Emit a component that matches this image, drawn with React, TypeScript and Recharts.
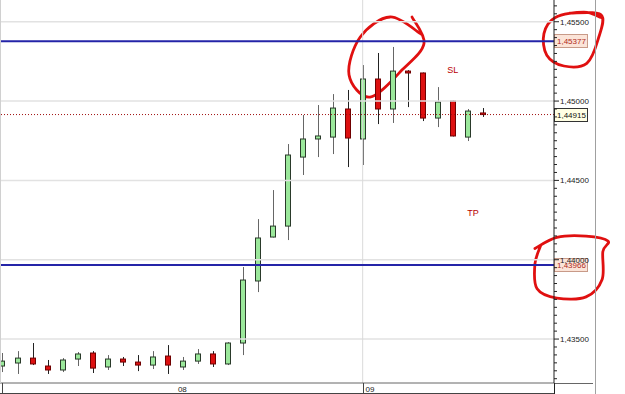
import React from 'react';
import {
  ComposedChart, Bar, XAxis, YAxis, ReferenceLine, ReferenceArea, ReferenceDot,
} from 'recharts';

// hourly EUR/USD-style candles
const hours = [
  1, 2, 3, 4, 5, 6, 7, 8, 9, 10, 11, 12, 13, 14, 15, 16, 17,
  18, 19, 20, 21, 22, 23, 24, 25, 26, 27, 28, 29, 30, 31, 32, 33,
];
const opens = [
  1.43330, 1.43349, 1.43380, 1.43330, 1.43305, 1.43374, 1.43412, 1.43324, 1.43374, 1.43355, 1.43336,
  1.43393, 1.43324, 1.43361, 1.43406, 1.43343, 1.43475, 1.43866, 1.44143, 1.44212, 1.44647, 1.44761,
  1.44773, 1.44950, 1.44761, 1.45139, 1.44950, 1.45189, 1.45177, 1.44893, 1.45000, 1.44773, 1.44925,
];
const highs = [
  1.43412, 1.43424, 1.43475, 1.43368, 1.43380, 1.43418, 1.43424, 1.43399, 1.43387, 1.43399, 1.43424,
  1.43462, 1.43387, 1.43437, 1.43424, 1.43481, 1.43954, 1.44256, 1.44439, 1.44729, 1.44912, 1.44975,
  1.45044, 1.45070, 1.45227, 1.45303, 1.45341, 1.45195, 1.45180, 1.45088, 1.45003, 1.44950, 1.44956,
];
const lows = [
  1.43292, 1.43280, 1.43336, 1.43280, 1.43292, 1.43330, 1.43286, 1.43305, 1.43330, 1.43298, 1.43311,
  1.43280, 1.43305, 1.43343, 1.43324, 1.43336, 1.43399, 1.43796, 1.44140, 1.44124, 1.44534, 1.44647,
  1.44666, 1.44584, 1.44597, 1.44855, 1.44862, 1.44962, 1.44874, 1.44836, 1.44777, 1.44748, 1.44900,
];
const closes = [
  1.43361, 1.43380, 1.43343, 1.43305, 1.43368, 1.43406, 1.43317, 1.43374, 1.43355, 1.43336, 1.43387,
  1.43336, 1.43361, 1.43406, 1.43343, 1.43475, 1.43872, 1.44137, 1.44212, 1.44660, 1.44761, 1.44780,
  1.44956, 1.44767, 1.45139, 1.44950, 1.45189, 1.45177, 1.44893, 1.44994, 1.44780, 1.44937, 1.44915,
];

const majorTicks = [1.435, 1.44, 1.445, 1.45, 1.455];
const minorTicks = Array.from({ length: 48 }, (_, i) => Math.round((1.4325 + i * 0.0005) * 10000) / 10000);

const dayTicks = [1, 13, 25];
const dayStart = [1, 25];
const dayLabel: Record<number, string> = { 13: '08', 25: '09' };

const stopLoss = 1.45377;
const takeProfit = 1.43966;
const lastPrice = 1.44915;

const data = hours.map((h, i) => ({
  h, open: opens[i], high: highs[i], low: lows[i], close: closes[i],
}));

const fmt = (v: number) => v.toFixed(5).replace('.', ',');
const FONT = '"Liberation Sans", Arial, sans-serif';

const Candle = (props: any) => {
  const { x, y, width, height, payload } = props;
  if (x == null || y == null) return null;
  const { open, close, high, low } = payload;
  const cx = Math.round(x + width / 2) + 0.5;
  const span = high - low || 1e-9;
  const py = (v: number) => y + ((high - v) / span) * height;
  const up = close >= open;
  const top = py(Math.max(open, close));
  const bot = py(Math.min(open, close));
  return (
    <g>
      <line x1={cx} x2={cx} y1={y} y2={y + height} stroke={up ? '#666' : '#222'} />
      <rect
        x={cx - 3}
        y={top}
        width={5}
        height={Math.max(bot - top, 1.5)}
        fill={up ? '#9be89b' : '#dd1010'}
        stroke={up ? '#2a3a2a' : '#700000'}
      />
    </g>
  );
};

const YTick = ({ x, y, payload }: any) => {
  const v = payload.value;
  const major = Math.round(v * 10000) % 50 === 0;
  return (
    <g>
      <line x1={x} x2={x + (major ? 5 : 3)} y1={y} y2={y} stroke="#222" />
      {major && (
        <text x={x + 6} y={y + 3} fontSize={8} fill="#222" fontFamily={FONT}>{fmt(v)}</text>
      )}
    </g>
  );
};

const XTick = ({ x, y, payload }: any) => {
  const v = payload.value;
  const sep = dayStart.includes(v);
  const label = dayLabel[v];
  const lx = Math.round(x) + 0.5;
  return (
    <g>
      {sep && <line x1={lx} x2={lx} y1={y} y2={y + 10} stroke="#444" />}
      {label && (
        <text
          x={sep ? lx + 2 : x}
          y={y + 9}
          fontSize={8}
          fill="#222"
          fontFamily={FONT}
          textAnchor={sep ? 'start' : 'middle'}
        >
          {label}
        </text>
      )}
    </g>
  );
};

const PriceTag = ({ viewBox, value, current }: any) => {
  if (!viewBox) return null;
  const x = viewBox.x + viewBox.width;
  const y = viewBox.y;
  return (
    <g>
      <rect
        x={x + 0.5}
        y={Math.round(y) - 6.5}
        width={33}
        height={13}
        fill={current ? '#ffffe4' : '#fbe4d8'}
        stroke={current ? '#333' : '#c89a88'}
      />
      <text x={x + 3} y={y + 3} fontSize={8} fill={current ? '#111' : '#b02a1a'} fontFamily={FONT}>
        {fmt(value)}
      </text>
    </g>
  );
};

// hand-drawn loops, normalised to the box of each ReferenceArea
const loop1 = [[0.84, 0.0], [1.0, 0.33], [0.72, 0.65], [0.28, 1.0], [0.0, 0.72], [0.15, 0.25], [0.55, 0.0], [0.97, 0.22]];
const loop2 = [[0.45, 0.02], [1.0, 0.05], [0.95, 0.5], [0.75, 0.95], [0.35, 1.0], [0.05, 0.8], [0.0, 0.4], [0.2, 0.1], [0.7, 0.0], [1.0, 0.1]];
const loop3 = [[0.0, 0.2], [0.3, 0.02], [0.7, 0.0], [1.0, 0.08], [0.93, 0.25], [0.92, 0.7], [0.7, 0.98], [0.3, 1.0], [0.03, 0.85], [0.0, 0.45], [0.08, 0.15]];

const smoothPath = (pts: number[][], x: number, y: number, w: number, h: number) => {
  const P = pts.map(([a, b]) => [x + a * w, y + b * h]);
  let d = `M${P[0][0]},${P[0][1]}`;
  for (let i = 0; i < P.length - 1; i++) {
    const p0 = P[i - 1] || P[i];
    const p1 = P[i];
    const p2 = P[i + 1];
    const p3 = P[i + 2] || p2;
    const c1 = [p1[0] + (p2[0] - p0[0]) / 6, p1[1] + (p2[1] - p0[1]) / 6];
    const c2 = [p2[0] - (p3[0] - p1[0]) / 6, p2[1] - (p3[1] - p1[1]) / 6];
    d += ` C${c1[0]},${c1[1]} ${c2[0]},${c2[1]} ${p2[0]},${p2[1]}`;
  }
  return d;
};

const Loop = (pts: number[][]) => (p: any) => (
  <path
    d={smoothPath(pts, p.x, p.y, p.width, p.height)}
    fill="none"
    stroke="#e01010"
    strokeWidth={2.8}
    strokeLinecap="round"
  />
);

const Note = (text: string) => (p: any) => (
  <text x={p.cx} y={p.cy} fontSize={9} fill="#b80000" fontFamily={FONT} textAnchor="middle" dy={3}>
    {text}
  </text>
);

export default function App() {
  return (
    <div style={{ position: 'absolute', left: 0, top: 0, width: 625, height: 394, background: '#fff' }}>
      <ComposedChart width={625} height={394} data={data} margin={{ top: 0, right: 0, bottom: 0, left: 0 }}>
        <XAxis
          dataKey="h"
          type="number"
          domain={[0.867, 37.73]}
          allowDataOverflow
          ticks={dayTicks}
          interval={0}
          tick={<XTick />}
          tickLine={false}
          tickSize={0}
          tickMargin={0}
          height={11}
          axisLine={{ stroke: '#666' }}
        />
        <YAxis
          orientation="right"
          domain={[1.43223, 1.45637]}
          allowDataOverflow
          ticks={minorTicks}
          interval={0}
          tick={<YTick />}
          tickLine={false}
          tickSize={0}
          tickMargin={0}
          width={71}
          axisLine={{ stroke: '#222' }}
        />
        {majorTicks.map((t) => (
          <ReferenceLine key={t} y={t} stroke="#e2e2e2" strokeWidth={1.5} />
        ))}
        <ReferenceLine x={25} stroke="#dadada" />
        <Bar
          dataKey={(d: any) => [d.low, d.high]}
          barSize={6}
          isAnimationActive={false}
          shape={(p: any) => <Candle {...p} />}
        />
        <ReferenceLine
          y={stopLoss}
          stroke="#2424a8"
          strokeWidth={2}
          label={(p: any) => <PriceTag viewBox={p.viewBox} value={stopLoss} />}
        />
        <ReferenceLine
          y={takeProfit}
          stroke="#2424a8"
          strokeWidth={2}
          label={(p: any) => <PriceTag viewBox={p.viewBox} value={takeProfit} />}
        />
        <ReferenceLine
          y={lastPrice}
          stroke="#a01010"
          strokeDasharray="1 2"
          label={(p: any) => <PriceTag viewBox={p.viewBox} value={lastPrice} current />}
        />
        <ReferenceDot x={31.0} y={1.45196} r={0} ifOverflow="visible" shape={Note('SL')} />
        <ReferenceDot x={32.34} y={1.44294} r={0} ifOverflow="visible" shape={Note('TP')} />
        <ReferenceArea x1={24.09} x2={29.08} y1={1.4553} y2={1.45025} ifOverflow="visible" shape={Loop(loop1)} />
        <ReferenceArea x1={37.06} x2={40.86} y1={1.45561} y2={1.45221} ifOverflow="visible" shape={Loop(loop2)} />
        <ReferenceArea x1={36.46} x2={41.32} y1={1.44149} y2={1.43758} ifOverflow="visible" shape={Loop(loop3)} />
      </ComposedChart>
      <div style={{ position: 'absolute', left: 0, top: 0, width: 1, height: 383, background: '#d0d0d0' }} />
      <div style={{ position: 'absolute', left: 554, top: 383, width: 39, height: 1, background: '#666' }} />
      <div style={{ position: 'absolute', left: 0, top: 393, width: 555, height: 1, background: '#444' }} />
      <div style={{ position: 'absolute', left: 554, top: 383, width: 1, height: 11, background: '#222' }} />
      <div style={{ position: 'absolute', left: 595, top: 0, width: 1, height: 394, background: '#a0a0a0' }} />
    </div>
  );
}
